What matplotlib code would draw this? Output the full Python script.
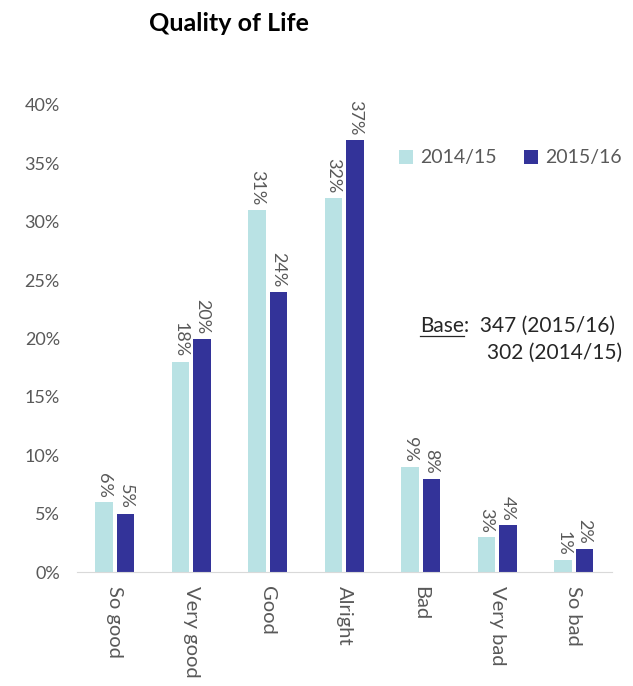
import numpy as np
import matplotlib.pyplot as plt

plt.rcParams['font.family'] = ['Lato', 'DejaVu Sans']

categories = ['So good', 'Very good', 'Good', 'Alright', 'Bad', 'Very bad', 'So bad']
vals_1415 = [6, 18, 31, 32, 9, 3, 1]
vals_1516 = [5, 20, 24, 37, 8, 4, 2]
series_names = ['2014/15', '2015/16']
colors = ['#b9e2e4', '#333399']
text_grey = '#595959'

fig = plt.figure(figsize=(6.33, 6.86), dpi=100)
ax = fig.add_axes([0.121, 0.166, 0.846, 0.681])

x = np.arange(len(categories))
w = 0.23
gap = 0.05
b1 = ax.bar(x - w / 2 - gap / 2, vals_1415, w, color=colors[0], label=series_names[0])
b2 = ax.bar(x + w / 2 + gap / 2, vals_1516, w, color=colors[1], label=series_names[1])

for bars in (b1, b2):
    for bar in bars:
        h = bar.get_height()
        ax.text(bar.get_x() + bar.get_width() / 2, h + 0.4, f'{h:.0f}%',
                rotation=-90, ha='center', va='bottom', fontsize=13, color=text_grey)

ax.set_xlim(-0.5, len(categories) - 0.5)
ax.set_ylim(0, 40)
ax.set_yticks(np.arange(0, 41, 5))
ax.set_yticklabels([f'{v}%' for v in range(0, 41, 5)])
ax.set_xticks(x)
ax.set_xticklabels(categories, rotation=-90, va='top')
ax.tick_params(axis='x', length=0, labelsize=14.5, colors=text_grey, pad=10)
ax.tick_params(axis='y', length=0, labelsize=13, colors=text_grey, pad=12)

for s in ['top', 'right', 'left']:
    ax.spines[s].set_visible(False)
ax.spines['bottom'].set_color('#d9d9d9')

ax.legend(loc='center right', bbox_to_anchor=(0.983, 1 - 158 / 686), bbox_transform=fig.transFigure,
          ncol=2, frameon=False, borderpad=0, borderaxespad=0,
          handlelength=0.7, handleheight=0.7, handletextpad=0.4, columnspacing=1.4,
          fontsize=14, labelcolor=text_grey)

fig.text(0.362, 0.966, 'Quality of Life', fontsize=18, fontweight='bold',
         ha='center', va='center', color='black')

# base note: underlined "Base" followed by counts
base_color = '#262626'
t_base = fig.text(0.664, 0.516, 'Base', fontsize=15, color=base_color, ha='left', va='baseline')
fig.canvas.draw()
bb = t_base.get_window_extent().transformed(fig.transFigure.inverted())
fig.text(bb.x1, 0.516, ':  347 (2015/16)', fontsize=15, color=base_color, ha='left', va='baseline')
fig.add_artist(plt.Line2D([bb.x0, bb.x1], [0.510, 0.510], color=base_color, lw=0.9,
                          transform=fig.transFigure))
fig.text(0.983, 0.477, '302 (2014/15)', fontsize=15, color=base_color, ha='right', va='baseline')

fig.savefig('out.png', dpi=100)
